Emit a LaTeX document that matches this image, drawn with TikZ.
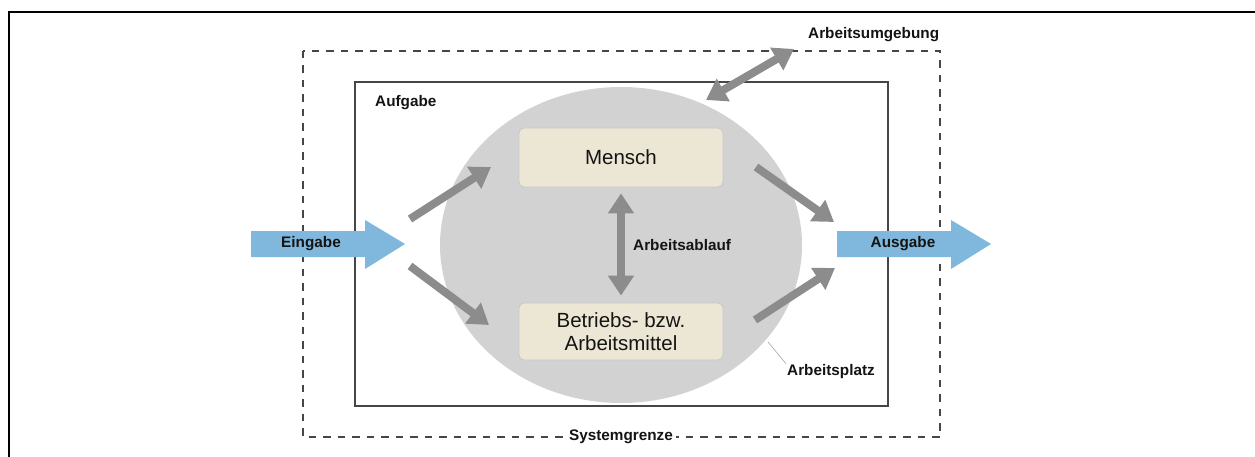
\documentclass[tikz,border=0pt]{standalone}
\usepackage{fontspec}
\setmainfont{Liberation Sans}
\usetikzlibrary{arrows.meta,shapes.geometric}
\definecolor{arrgray}{RGB}{140,140,140}
\definecolor{placegray}{RGB}{210,210,210}
\definecolor{boxbeige}{RGB}{236,230,213}
\definecolor{flowblue}{RGB}{127,184,220}
\definecolor{linegray}{RGB}{70,70,70}
\tikzset{
  fatarrow/.style={draw=arrgray,line width=8pt,-{Triangle[width=25pt,length=20pt]}},
  dblarrow/.style={draw=arrgray,line width=8pt,{Triangle[width=25pt,length=20pt]}-{Triangle[width=25pt,length=20pt]}},
  beigebox/.style={rectangle,rounded corners=5pt,fill=boxbeige,draw=black!22,line width=0.8pt,
    minimum width=204pt,align=center,font=\fontsize{20.5}{23}\selectfont,text=black!92},
  lbl/.style={font=\fontsize{15.3}{18}\selectfont\bfseries,text=black!92,inner sep=1pt},
  flow/.style={fill=flowblue}
}
\begin{document}
\begin{tikzpicture}[x=1pt,y=-1pt]
\useasboundingbox (0,0) rectangle (1255,457);
% outer frame (top and left edges)
\draw[line width=2.5pt,black] (1255,12) -- (9,12) -- (9,457);
% system boundary
\draw[linegray,line width=1.4pt,dash pattern=on 7.5pt off 7pt] (303,51) rectangle (940,437);
% task box
\draw[linegray,line width=1.3pt] (355,82) rectangle (888,406);
% workplace
\node[ellipse,fill=placegray,minimum width=362pt,minimum height=316pt,inner sep=0pt] (place) at (621,245) {};
\node[beigebox,minimum height=59pt] (mensch) at (621,157.5) {Mensch};
\node[beigebox,minimum height=57pt] (mittel) at (621,331.5) {Betriebs- bzw.\\Arbeitsmittel};
\draw[dblarrow] ([yshift=-6pt]mensch.south) -- ([yshift=7pt]mittel.north);
\node[lbl,anchor=west] (ablauf) at (632,245) {Arbeitsablauf};
% input / output
\fill[flow] (251,231) -- (365,231) -- (365,220) -- (405,244) -- (365,269) -- (365,257) -- (251,257) -- cycle;
\node[lbl] (eingabe) at (311,244) {Eingabe};
\fill[flow] (837,231) -- (951,231) -- (951,220) -- (991,244) -- (951,269) -- (951,257) -- (837,257) -- cycle;
\node[lbl] (ausgabe) at (903,244) {Ausgabe};
% flow arrows
\coordinate (i1s) at (410,219);
\coordinate (i1e) at (491,167);
\coordinate (i2s) at (410,266);
\coordinate (i2e) at (489,325);
\coordinate (o1s) at (756,167);
\coordinate (o1e) at (834,222);
\coordinate (o2s) at (755,320);
\coordinate (o2e) at (835,268);
\draw[fatarrow] (i1s) -- (i1e);
\draw[fatarrow] (i2s) -- (i2e);
\draw[fatarrow] (o1s) -- (o1e);
\draw[fatarrow] (o2s) -- (o2e);
% environment
\coordinate (u1) at (706,100);
\coordinate (u2) at (794,49);
\draw[dblarrow] (u1) -- (u2);
\node[lbl,anchor=west] (umgebung) at (807,35) {Arbeitsumgebung};
% labels
\node[lbl,anchor=west] (aufgabe) at (374,103) {Aufgabe};
\node[lbl,anchor=west] (platz) at (786,372) {Arbeitsplatz};
\coordinate (pl) at (768,342);
\draw[black!35,line width=0.6pt] (pl) -- (platz.north west);
\node[lbl,fill=white,inner xsep=3pt] (grenze) at (621,437) {Systemgrenze};
\end{tikzpicture}
\end{document}
